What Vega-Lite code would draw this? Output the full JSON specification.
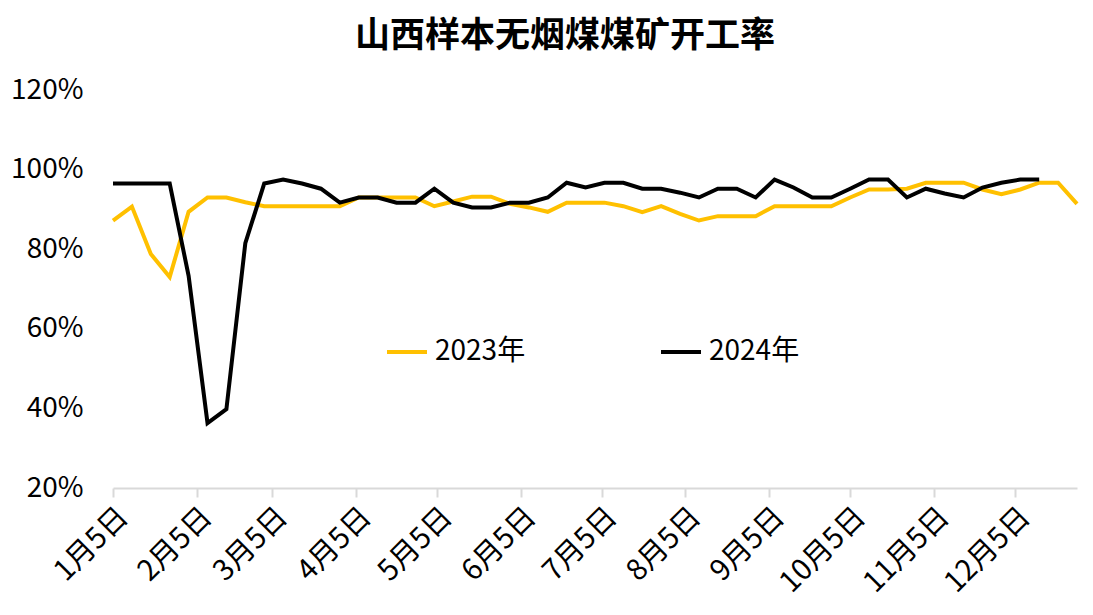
{
  "$schema": "https://vega.github.io/schema/vega-lite/v6.json",
  "autosize": "none",
  "width": 964,
  "height": 398,
  "padding": {"left": 113, "top": 90, "right": 16, "bottom": 127},
  "background": "white",
  "config": {"view": {"stroke": null}, "font": "Noto Sans CJK SC"},
  "title": {"text": "山西样本无烟煤煤矿开工率", "fontSize": 35, "fontWeight": "bold", "font": "Noto Sans CJK SC", "color": "#000000", "anchor": "middle", "dx": -30, "offset": 22},
  "datasets": {
    "y2023": [
      {"date": "2023-01-05", "v": 0.872}, {"date": "2023-01-12", "v": 0.907}, {"date": "2023-01-19", "v": 0.788}, {"date": "2023-01-26", "v": 0.730},
      {"date": "2023-02-02", "v": 0.894}, {"date": "2023-02-09", "v": 0.930}, {"date": "2023-02-16", "v": 0.930}, {"date": "2023-02-23", "v": 0.918},
      {"date": "2023-03-02", "v": 0.908}, {"date": "2023-03-09", "v": 0.908}, {"date": "2023-03-16", "v": 0.908}, {"date": "2023-03-23", "v": 0.908}, {"date": "2023-03-30", "v": 0.908},
      {"date": "2023-04-06", "v": 0.930}, {"date": "2023-04-13", "v": 0.930}, {"date": "2023-04-20", "v": 0.930}, {"date": "2023-04-27", "v": 0.930},
      {"date": "2023-05-04", "v": 0.908}, {"date": "2023-05-11", "v": 0.920}, {"date": "2023-05-18", "v": 0.932}, {"date": "2023-05-25", "v": 0.932},
      {"date": "2023-06-01", "v": 0.914}, {"date": "2023-06-08", "v": 0.905}, {"date": "2023-06-15", "v": 0.894}, {"date": "2023-06-22", "v": 0.917}, {"date": "2023-06-29", "v": 0.917},
      {"date": "2023-07-06", "v": 0.917}, {"date": "2023-07-13", "v": 0.908}, {"date": "2023-07-20", "v": 0.893}, {"date": "2023-07-27", "v": 0.908},
      {"date": "2023-08-03", "v": 0.889}, {"date": "2023-08-10", "v": 0.872}, {"date": "2023-08-17", "v": 0.883}, {"date": "2023-08-24", "v": 0.883}, {"date": "2023-08-31", "v": 0.883},
      {"date": "2023-09-07", "v": 0.908}, {"date": "2023-09-14", "v": 0.908}, {"date": "2023-09-21", "v": 0.908}, {"date": "2023-09-28", "v": 0.908},
      {"date": "2023-10-05", "v": 0.930}, {"date": "2023-10-12", "v": 0.950}, {"date": "2023-10-19", "v": 0.950}, {"date": "2023-10-26", "v": 0.952},
      {"date": "2023-11-02", "v": 0.967}, {"date": "2023-11-09", "v": 0.967}, {"date": "2023-11-16", "v": 0.967}, {"date": "2023-11-23", "v": 0.950}, {"date": "2023-11-30", "v": 0.938},
      {"date": "2023-12-07", "v": 0.950}, {"date": "2023-12-14", "v": 0.967}, {"date": "2023-12-21", "v": 0.967}, {"date": "2023-12-28", "v": 0.914}
    ],
    "y2024": [
      {"date": "2023-01-05", "v": 0.965}, {"date": "2023-01-12", "v": 0.965}, {"date": "2023-01-19", "v": 0.965}, {"date": "2023-01-26", "v": 0.965},
      {"date": "2023-02-02", "v": 0.733}, {"date": "2023-02-09", "v": 0.363}, {"date": "2023-02-16", "v": 0.398}, {"date": "2023-02-23", "v": 0.815},
      {"date": "2023-03-02", "v": 0.965}, {"date": "2023-03-09", "v": 0.975}, {"date": "2023-03-16", "v": 0.965}, {"date": "2023-03-23", "v": 0.952}, {"date": "2023-03-30", "v": 0.917},
      {"date": "2023-04-06", "v": 0.930}, {"date": "2023-04-13", "v": 0.930}, {"date": "2023-04-20", "v": 0.917}, {"date": "2023-04-27", "v": 0.917},
      {"date": "2023-05-04", "v": 0.952}, {"date": "2023-05-11", "v": 0.917}, {"date": "2023-05-18", "v": 0.905}, {"date": "2023-05-25", "v": 0.905},
      {"date": "2023-06-01", "v": 0.917}, {"date": "2023-06-08", "v": 0.917}, {"date": "2023-06-15", "v": 0.930}, {"date": "2023-06-22", "v": 0.967}, {"date": "2023-06-29", "v": 0.955},
      {"date": "2023-07-06", "v": 0.967}, {"date": "2023-07-13", "v": 0.967}, {"date": "2023-07-20", "v": 0.952}, {"date": "2023-07-27", "v": 0.952},
      {"date": "2023-08-03", "v": 0.942}, {"date": "2023-08-10", "v": 0.930}, {"date": "2023-08-17", "v": 0.952}, {"date": "2023-08-24", "v": 0.952}, {"date": "2023-08-31", "v": 0.930},
      {"date": "2023-09-07", "v": 0.975}, {"date": "2023-09-14", "v": 0.955}, {"date": "2023-09-21", "v": 0.930}, {"date": "2023-09-28", "v": 0.930},
      {"date": "2023-10-05", "v": 0.952}, {"date": "2023-10-12", "v": 0.975}, {"date": "2023-10-19", "v": 0.975}, {"date": "2023-10-26", "v": 0.930},
      {"date": "2023-11-02", "v": 0.952}, {"date": "2023-11-09", "v": 0.940}, {"date": "2023-11-16", "v": 0.930}, {"date": "2023-11-23", "v": 0.955}, {"date": "2023-11-30", "v": 0.967},
      {"date": "2023-12-07", "v": 0.975}, {"date": "2023-12-14", "v": 0.975}
    ]
  },
  "layer": [
    {
      "data": {"name": "y2023"},
      "transform": [{"calculate": "'2023年'", "as": "series"}],
      "mark": {"type": "line", "strokeWidth": 4, "strokeJoin": "miter"},
      "encoding": {
        "x": {"field": "date", "type": "temporal", "scale": {"type": "utc", "domain": [{"year": 2023, "month": 1, "date": 5, "utc": true}, {"year": 2023, "month": 12, "date": 28, "utc": true}]},
          "axis": {"title": null, "grid": false, "values": [
            {"year": 2023, "month": 1, "date": 5, "utc": true}, {"year": 2023, "month": 2, "date": 5, "utc": true}, {"year": 2023, "month": 3, "date": 5, "utc": true},
            {"year": 2023, "month": 4, "date": 5, "utc": true}, {"year": 2023, "month": 5, "date": 5, "utc": true}, {"year": 2023, "month": 6, "date": 5, "utc": true},
            {"year": 2023, "month": 7, "date": 5, "utc": true}, {"year": 2023, "month": 8, "date": 5, "utc": true}, {"year": 2023, "month": 9, "date": 5, "utc": true},
            {"year": 2023, "month": 10, "date": 5, "utc": true}, {"year": 2023, "month": 11, "date": 5, "utc": true}, {"year": 2023, "month": 12, "date": 5, "utc": true}],
            "labelExpr": "utcFormat(datum.value, '%-m月%-d日')", "labelAngle": -45, "labelFontSize": 29, "labelColor": "#000000", "labelPadding": 5,
            "domainColor": "#D9D9D9", "domainWidth": 2, "tickColor": "#D9D9D9", "tickWidth": 2, "tickSize": 9, "labelOverlap": false, "labelFlush": false}},
        "y": {"field": "v", "type": "quantitative", "scale": {"domain": [0.2, 1.2], "nice": false, "zero": false},
          "axis": {"title": null, "grid": false, "domain": false, "ticks": false, "values": [0.2, 0.4, 0.6, 0.8, 1.0, 1.2], "format": ".0%", "labelFontSize": 28, "labelColor": "#000000", "labelPadding": 30}},
        "color": {"field": "series", "type": "nominal", "scale": {"domain": ["2023年", "2024年"], "range": ["#FFC000", "#000000"]},
          "legend": {"title": null, "orient": "none", "legendX": 272, "legendY": 240, "direction": "horizontal", "symbolType": "stroke", "symbolStrokeWidth": 4, "symbolSize": 1600, "labelFontSize": 28, "labelColor": "#000000", "labelOffset": 6, "columnPadding": 127}}
      }
    },
    {
      "data": {"name": "y2024"},
      "transform": [{"calculate": "'2024年'", "as": "series"}],
      "mark": {"type": "line", "strokeWidth": 4, "strokeJoin": "miter"},
      "encoding": {
        "x": {"field": "date", "type": "temporal"},
        "y": {"field": "v", "type": "quantitative"},
        "color": {"field": "series", "type": "nominal"}
      }
    }
  ]
}
